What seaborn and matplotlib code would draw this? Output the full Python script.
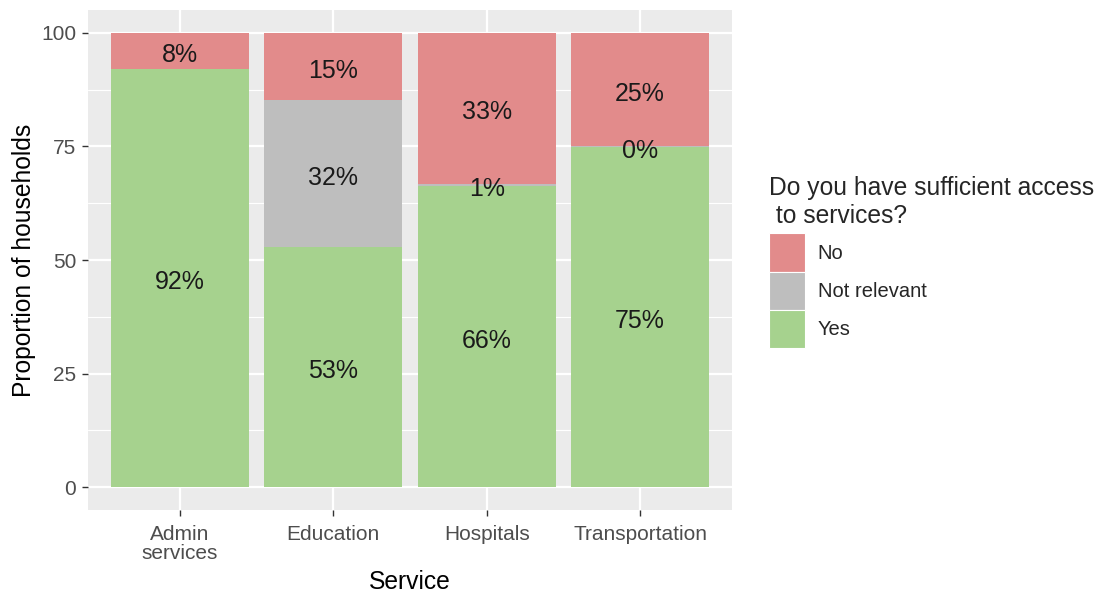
import numpy as np
import pandas as pd
import seaborn as sns
import matplotlib.pyplot as plt
from matplotlib.patches import Patch

# data (percent of households)
services = ["Admin\nservices", "Education", "Hospitals", "Transportation"]
yes = [92.0, 52.9, 66.2, 74.9]
not_relevant = [np.nan, 32.2, 0.6, 0.1]
no = [8.0, 14.9, 33.2, 25.0]
answers = ["No", "Not relevant", "Yes"]
colors = {"No": "#E28B8B", "Not relevant": "#BEBEBE", "Yes": "#A6D28E"}

df = pd.DataFrame({"service": services, "Yes": yes,
                   "Not relevant": not_relevant, "No": no})
df["c_yes"] = df["Yes"]
df["c_nr"] = df["c_yes"] + df["Not relevant"].fillna(0)
df["c_no"] = df["c_nr"] + df["No"]

sns.set_theme(style="darkgrid")
plt.rcParams["font.family"] = ["Liberation Sans", "DejaVu Sans"]
plt.rcParams["axes.facecolor"] = "#EBEBEB"

fig = plt.figure(figsize=(10.99, 5.94), dpi=100)
ax = fig.add_axes([88 / 1099, 84 / 594, 644 / 1099, 500 / 594])

# stacked bars: draw cumulative totals from the top segment down
for col, ans in [("c_no", "No"), ("c_nr", "Not relevant"), ("c_yes", "Yes")]:
    sns.barplot(data=df, x="service", y=col, color=colors[ans], width=0.9,
                saturation=1, ax=ax, linewidth=0, zorder=2)

# percentage labels in the middle of each segment
for i, row in df.iterrows():
    bottom = 0
    for ans in ["Yes", "Not relevant", "No"]:
        v = row[ans]
        if pd.isna(v):
            continue
        ax.annotate(f"{v:.0f}%", (i, bottom + v / 2), xytext=(0, -3),
                    textcoords="offset points", ha="center", va="center",
                    fontsize=18, color="#1A1A1A", zorder=3)
        bottom += v

ax.set_xlim(-0.6, 3.6)
ax.set_ylim(-5, 105)
ax.set_yticks([0, 25, 50, 75, 100])
ax.set_yticks([12.5, 37.5, 62.5, 87.5], minor=True)
ax.grid(True, which="major", color="white", linewidth=1.6, zorder=0)
ax.grid(True, which="minor", axis="y", color="white", linewidth=0.8, zorder=0)
ax.set_axisbelow(True)
for s in ax.spines.values():
    s.set_visible(False)

ax.tick_params(axis="both", which="major", length=4.5, width=1, color="#333333",
               labelsize=15, labelcolor="#4D4D4D", pad=4, bottom=True, left=True)
ax.tick_params(axis="x", which="major", pad=6)
ax.tick_params(axis="both", which="minor", length=0)
for t in ax.get_xticklabels():
    t.set_linespacing(1.05)

ax.set_xlabel("Service", fontsize=17.7, color="black", labelpad=5)
ax.set_ylabel("Proportion of households", fontsize=17.7, color="black", labelpad=4)

handles = [Patch(facecolor=colors[a], edgecolor="white", linewidth=0.8, label=a)
           for a in answers]
leg = ax.legend(handles=handles, title="Do you have sufficient access\n to services?",
                loc="upper left", bbox_to_anchor=(1.058, 0.668), frameon=False,
                fontsize=14.5, title_fontsize=17.7, alignment="left",
                handlelength=1.75, handleheight=2.55, labelspacing=0.0,
                handletextpad=0.65, borderaxespad=0, borderpad=0)
leg._legend_box.sep = 4

fig.savefig("out.png", dpi=100)
